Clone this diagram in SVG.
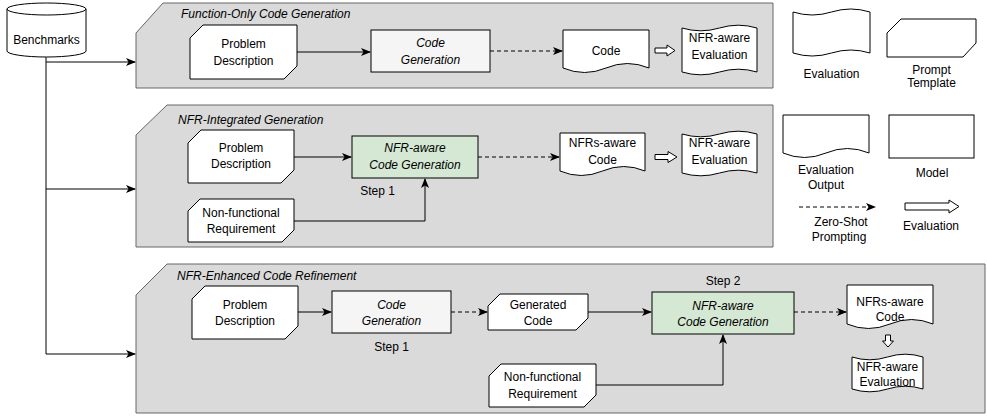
<svg xmlns="http://www.w3.org/2000/svg" width="987" height="417" viewBox="0 0 987 417">
<style>
text{font-family:"Liberation Sans",Arial,Helvetica,sans-serif;font-size:12px;fill:#000;text-anchor:middle}
.it{font-style:italic}
.ttl{font-style:italic;text-anchor:start}
.panel{fill:#dadada;stroke:#666;stroke-width:1}
.node{fill:#fff;stroke:#000;stroke-width:1}
.gray{fill:#f5f5f5;stroke:#000;stroke-width:1}
.green{fill:#d5e8d4;stroke:#000;stroke-width:1}
.ln{fill:none;stroke:#000;stroke-width:1}
.arr{marker-end:url(#ah)}
.dash{stroke-dasharray:4 3}
.hollow{fill:#fff;stroke:#000;stroke-width:1}
</style>
<defs>
<marker id="ah" viewBox="0 0 10 10" refX="9" refY="5" markerWidth="10" markerHeight="10" markerUnits="userSpaceOnUse" orient="auto">
<path d="M0,1 L10,5 L0,9 L2.5,5 Z" fill="#000"/>
</marker>
</defs>

<g id="panels">
<path class="panel" d="M163,3 L773,3 L773,88 L136,88 L136,33 Z"/>
<path class="panel" d="M167,105 L773,105 L773,247 L136,247 L136,135 Z"/>
<path class="panel" d="M167,264 L985,264 L985,413 L136,413 L136,295 Z"/>
<text class="ttl" x="181" y="18">Function-Only Code Generation</text>
<text class="ttl" x="178" y="124">NFR-Integrated Generation</text>
<text class="ttl" x="177" y="280">NFR-Enhanced Code Refinement</text>
</g>

<g id="connectors">
<path class="ln" d="M46,57 L46,354"/>
<path class="ln arr" d="M46,62 L135,62"/>
<path class="ln arr" d="M46,189 L135,189"/>
<path class="ln arr" d="M46,354 L135,354"/>
<path class="ln arr" d="M297,52 L370,52"/>
<path class="ln arr dash" d="M490,51 L562,51"/>
<path class="hollow" d="M655,48 L667,48 L667,45 L675,50.5 L667,56 L667,53 L655,53 Z"/>
<path class="ln arr" d="M294,157 L351,157"/>
<path class="ln arr" d="M294,221 L425,221 L425,179"/>
<path class="ln arr dash" d="M478,157 L559,157"/>
<path class="hollow" d="M655,154.5 L668,154.5 L668,151.5 L677,157 L668,162.5 L668,159.5 L655,159.5 Z"/>
<path class="ln arr" d="M298,312 L331,312"/>
<path class="ln arr dash" d="M451,312 L487,312"/>
<path class="ln arr" d="M588,312 L651,312"/>
<path class="ln arr" d="M596,385 L723,385 L723,335"/>
<path class="ln arr dash" d="M794,312 L846,312"/>
<path class="hollow" d="M885.5,335 L885.5,341 L882.5,341 L888,347 L893.5,341 L890.5,341 L890.5,335 Z"/>
<path class="ln arr dash" d="M799,207 L875,207"/>
<path class="hollow" d="M905,203 L949,203 L949,200 L959,206.5 L949,213 L949,210 L905,210 Z"/>
</g>

<g id="benchmarks">
<path class="node" d="M7,9 A39.5,6 0 0 1 86,9 L86,51 A39.5,6 0 0 1 7,51 Z"/>
<path class="ln" d="M7,9 A39.5,6 0 0 0 86,9"/>
<text x="46.5" y="44">Benchmarks</text>
</g>

<g id="pd1">
<path class="node" d="M203,25 L297,25 L297,66 L284,79 L190,79 L190,38 Z"/>
<text x="243.5" y="47.5">Problem</text>
<text x="243.5" y="64.5">Description</text>
</g>
<g id="cg1">
<rect class="gray" x="371" y="30" width="119" height="42"/>
<text class="it" x="430.5" y="46.5">Code</text>
<text class="it" x="430.5" y="63.5">Generation</text>
</g>
<g id="code1">
<path class="node" d="M563,30 L649,30 L649,68 Q627.5,59 606,68 Q584.5,77 563,68 Z"/>
<text x="606" y="55">Code</text>
</g>
<g id="eval1">
<path class="node" d="M682,28 Q700.75,33.6 719.5,28 Q738.25,22.4 757,28 L757,72 Q738.25,66.4 719.5,72 Q700.75,77.6 682,72 Z"/>
<text x="719.5" y="41.5">NFR-aware</text>
<text x="719.5" y="58.5">Evaluation</text>
</g>

<g id="pd2">
<path class="node" d="M201,130 L294,130 L294,170 L281,183 L188,183 L188,143 Z"/>
<text x="241" y="152">Problem</text>
<text x="241" y="168">Description</text>
</g>
<g id="nfr2">
<path class="node" d="M200,199 L294,199 L294,230 L282,242 L188,242 L188,211 Z"/>
<text x="241" y="217">Non-functional</text>
<text x="241" y="233">Requirement</text>
</g>
<g id="gen2">
<rect class="green" x="352" y="136" width="126" height="42"/>
<text class="it" x="415" y="152">NFR-aware</text>
<text class="it" x="415" y="169">Code Generation</text>
<text x="377.5" y="195">Step 1</text>
</g>
<g id="code2">
<path class="node" d="M560,133 L645,133 L645,171 Q623.75,162 602.5,171 Q581.25,180 560,171 Z"/>
<text x="602.5" y="147">NFRs-aware</text>
<text x="602.5" y="164">Code</text>
</g>
<g id="eval2">
<path class="node" d="M682,134 Q700.75,139.6 719.5,134 Q738.25,128.4 757,134 L757,173 Q738.25,167.4 719.5,173 Q700.75,178.6 682,173 Z"/>
<text x="719.5" y="147">NFR-aware</text>
<text x="719.5" y="164">Evaluation</text>
</g>

<g id="pd3">
<path class="node" d="M205,286 L298,286 L298,326 L285,339 L192,339 L192,299 Z"/>
<text x="245" y="309">Problem</text>
<text x="245" y="325">Description</text>
</g>
<g id="cg3">
<rect class="gray" x="332" y="291" width="119" height="42"/>
<text class="it" x="391.5" y="309">Code</text>
<text class="it" x="391.5" y="325">Generation</text>
<text x="391.5" y="351">Step 1</text>
</g>
<g id="gencode">
<path class="node" d="M500,294 L588,294 L588,318 L576,330 L488,330 L488,306 Z"/>
<text x="538" y="309">Generated</text>
<text x="538" y="325">Code</text>
</g>
<g id="gen3">
<rect class="green" x="652" y="292" width="142" height="42"/>
<text class="it" x="723" y="310">NFR-aware</text>
<text class="it" x="723" y="326">Code Generation</text>
<text x="723" y="285">Step 2</text>
</g>
<g id="nfr3">
<path class="node" d="M501,364 L596,364 L596,395 L584,407 L489,407 L489,376 Z"/>
<text x="542.5" y="381">Non-functional</text>
<text x="542.5" y="398">Requirement</text>
</g>
<g id="code3">
<path class="node" d="M847,285 L933,285 L933,324 Q911.5,315 890,324 Q868.5,333 847,324 Z"/>
<text x="890" y="306">NFRs-aware</text>
<text x="890" y="321">Code</text>
</g>
<g id="eval3">
<path class="node" d="M852,357 Q869.75,362.6 887.5,357 Q905.25,351.4 923,357 L923,389 Q905.25,383.4 887.5,389 Q869.75,394.6 852,389 Z"/>
<text x="887.5" y="371">NFR-aware</text>
<text x="887.5" y="386">Evaluation</text>
</g>

<g id="legend-eval">
<path class="node" d="M793,12 Q812.25,18 831.5,12 Q850.75,6 870,12 L870,53 Q850.75,47 831.5,53 Q812.25,59 793,53 Z"/>
<text x="831.5" y="78">Evaluation</text>
</g>
<g id="legend-prompt">
<path class="node" d="M901,19 L976,19 L976,43 L963,57 L887,57 L887,33 Z"/>
<text x="931.5" y="74">Prompt</text>
<text x="931.5" y="87">Template</text>
</g>
<g id="legend-output">
<path class="node" d="M783,115 L869,115 L869,153 Q847.5,144 826,153 Q804.5,162 783,153 Z"/>
<text x="826" y="174">Evaluation</text>
<text x="826" y="189">Output</text>
</g>
<g id="legend-model">
<rect class="node" x="889" y="115" width="85" height="43"/>
<text x="932" y="177">Model</text>
</g>
<g id="legend-zero">
<text x="841" y="226">Zero-Shot</text>
<text x="839" y="241">Prompting</text>
</g>
<g id="legend-evalarrow">
<text x="931" y="230">Evaluation</text>
</g>
</svg>
